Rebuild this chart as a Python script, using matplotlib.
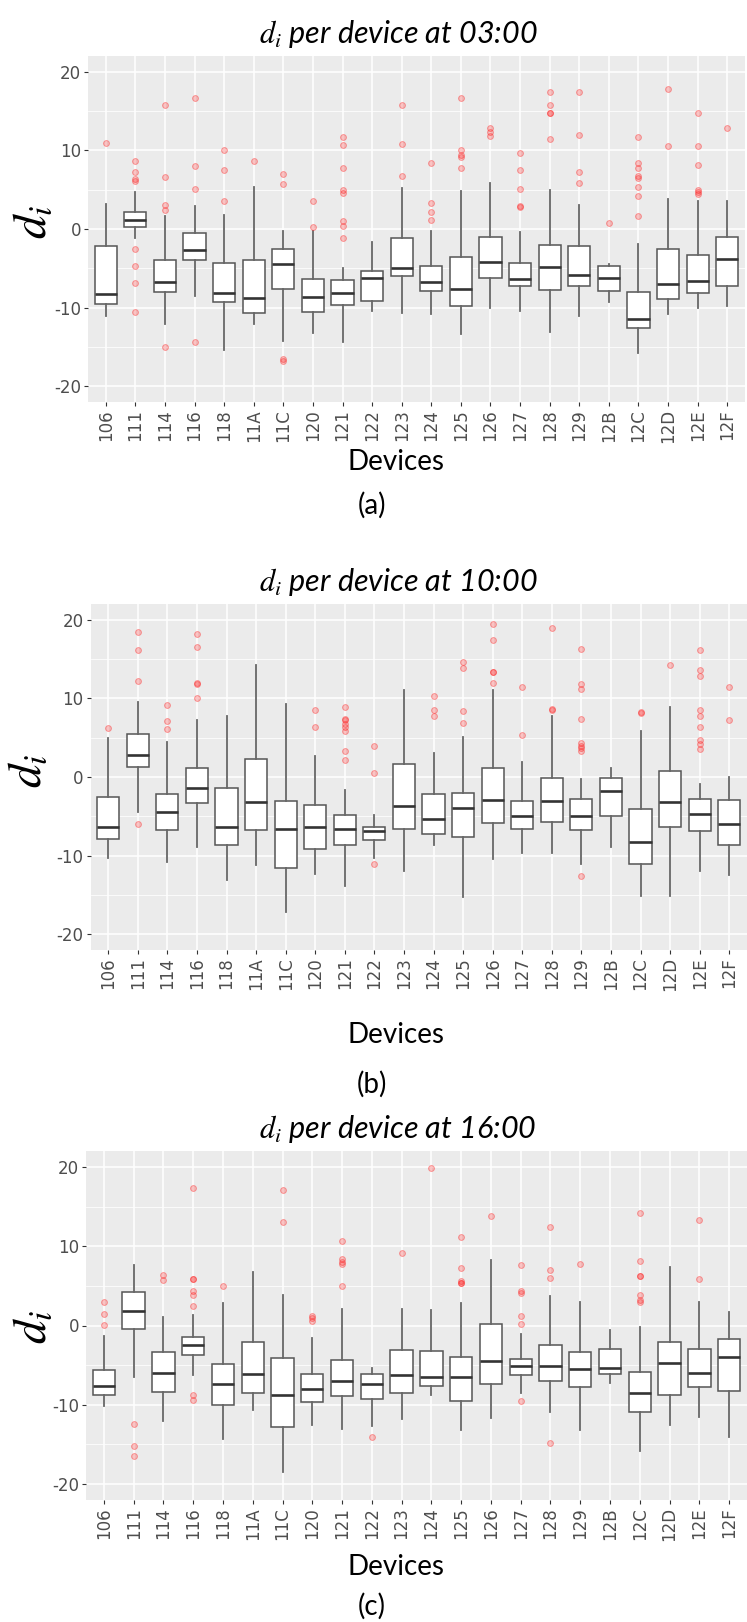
import matplotlib
matplotlib.use('Agg')
import matplotlib.pyplot as plt
from matplotlib.ticker import FixedLocator

plt.rcParams['mathtext.fontset'] = 'stix'

devices = ['106', '111', '114', '116', '118', '11A', '11C', '120', '121', '122', '123',
           '124', '125', '126', '127', '128', '129', '12B', '12C', '12D', '12E', '12F']

# ---------------- panel (a) 03:00 ----------------
a_whishi = [3.2, 4.7, 1.7, 2.9, 1.8, 5.3, -0.2, -0.3, -5.0, -1.7, 5.25,
            -0.3, 4.8, 5.8, -0.4, 5.0, 3.0, -4.5, -1.9, 3.8, 3.6, 3.6]
a_q3 = [-2.1, 2.1, -4.0, -0.5, -4.3, -3.9, -2.6, -6.3, -6.5, -5.4, -1.2,
        -4.7, -3.5, -1.0, -4.3, -2.0, -2.2, -4.7, -8.0, -2.6, -3.3, -1.0]
a_med = [-8.3, 1.1, -6.7, -2.7, -8.2, -8.8, -4.5, -8.6, -8.1, -6.2, -5.0,
         -6.7, -7.6, -4.2, -6.3, -4.8, -5.8, -6.2, -11.5, -7.0, -6.6, -3.8]
a_q1 = [-9.5, 0.25, -8.0, -3.9, -9.3, -10.7, -7.6, -10.6, -9.7, -9.1, -6.0,
        -7.9, -9.8, -6.2, -7.2, -7.8, -7.3, -7.9, -12.6, -8.9, -8.1, -7.2]
a_whislo = [-11.1, -1.2, -12.1, -8.5, -15.4, -12.1, -14.2, -13.2, -14.4, -10.4, -10.7,
            -10.8, -13.4, -10.0, -10.4, -13.1, -11.1, -9.3, -15.8, -10.8, -10.0, -9.8]
a_fliers = [[11.0],
            [8.6, 7.2, 6.4, 6.1, -2.6, -4.7, -6.9, -10.6],
            [15.8, 6.6, 3.05, 2.4, -15.0],
            [16.6, 8.0, 5.1, -14.4],
            [10.0, 7.5, 3.6],
            [8.7],
            [7.0, 5.7, -16.5, -16.8],
            [3.6, 0.2],
            [11.7, 10.7, 7.8, 5.0, 4.6, 1.0, 0.4, -1.1],
            [],
            [15.8, 10.8, 6.7],
            [8.4, 3.3, 2.2, 1.2],
            [16.7, 10.1, 9.4, 9.2, 7.7],
            [12.8, 12.3, 11.8],
            [9.7, 7.5, 5.1, 2.9, 2.8],
            [17.4, 15.8, 14.8, 14.7, 11.5],
            [17.4, 11.9, 7.2, 5.8],
            [0.8],
            [11.7, 8.4, 7.75, 6.8, 6.5, 5.4, 4.2, 1.6],
            [17.8, 10.5],
            [14.7, 10.6, 8.1, 4.9, 4.7, 4.5],
            [12.8]]

# ---------------- panel (b) 10:00 ----------------
b_whishi = [4.9, 9.6, 4.5, 7.2, 7.8, 14.2, 9.3, 2.7, -1.65, -4.8, 11.1,
            3.05, 5.1, 11.1, 1.95, 7.8, -0.2, 1.1, 5.8, 8.9, -0.9, 0.0]
b_q3 = [-2.5, 5.5, -2.2, 1.1, -1.4, 2.3, -3.1, -3.5, -4.8, -6.4, 1.6,
        -2.2, -2.0, 1.2, -3.1, -0.1, -2.8, -0.1, -4.1, 0.7, -2.75, -2.9]
b_med = [-6.4, 2.8, -4.4, -1.4, -6.4, -3.2, -6.6, -6.4, -6.6, -6.9, -3.7,
         -5.3, -3.9, -2.9, -5.0, -3.1, -5.0, -1.8, -8.3, -3.2, -4.7, -6.0]
b_q1 = [-7.9, 1.3, -6.8, -3.3, -8.7, -6.8, -11.6, -9.2, -8.7, -8.05, -6.6,
        -7.3, -7.6, -5.8, -6.6, -5.7, -6.7, -4.9, -11.1, -6.4, -6.9, -8.6]
b_whislo = [-10.3, -4.4, -10.85, -8.9, -13.05, -11.2, -17.2, -12.3, -13.8, -10.3, -12.0,
            -8.7, -15.3, -10.4, -9.7, -9.7, -11.1, -8.9, -15.1, -15.1, -11.9, -12.5]
b_fliers = [[6.2],
            [18.5, 16.2, 12.2, -6.0],
            [9.1, 7.1, 6.1],
            [18.2, 16.5, 12.0, 11.8, 10.0],
            [],
            [],
            [],
            [8.5, 6.3],
            [8.9, 7.4, 7.2, 6.8, 6.4, 5.9, 3.3, 2.2],
            [4.0, 0.5, -11.1],
            [],
            [10.3, 8.5, 7.8],
            [14.6, 13.9, 8.4, 6.9],
            [19.5, 17.4, 13.4, 13.3, 11.9],
            [11.4, 5.3],
            [18.9, 8.6, 8.5],
            [16.3, 11.8, 11.2, 7.4, 4.3, 3.9, 3.7, 3.3, -12.6],
            [],
            [8.3, 8.2],
            [14.2],
            [16.1, 13.6, 12.8, 8.5, 7.75, 6.3, 4.7, 4.15, 3.5],
            [11.4, 7.2]]

# ---------------- panel (c) 16:00 ----------------
c_whishi = [-1.3, 7.6, 1.05, 1.35, 2.8, 6.7, 3.9, -1.6, 2.1, -5.4, 2.1,
            1.9, 2.8, 8.3, -1.1, 3.7, 2.9, -0.55, -0.2, 7.4, 2.9, 1.7]
c_q3 = [-5.6, 4.2, -3.3, -1.4, -4.8, -2.1, -4.1, -6.1, -4.3, -6.1, -3.1,
        -3.2, -4.0, 0.25, -4.2, -2.5, -3.4, -2.9, -5.85, -2.1, -3.0, -1.7]
c_med = [-7.6, 1.8, -6.0, -2.5, -7.4, -6.1, -8.7, -8.0, -7.0, -7.4, -6.2,
         -6.5, -6.5, -4.5, -5.1, -5.1, -5.5, -5.3, -8.45, -4.7, -6.0, -4.0]
c_q1 = [-8.8, -0.5, -8.4, -3.7, -10.0, -8.5, -12.8, -9.6, -8.9, -9.3, -8.5,
        -7.6, -9.5, -7.4, -6.3, -7.0, -7.7, -6.1, -10.9, -8.7, -7.8, -8.3]
c_whislo = [-10.2, -6.5, -12.0, -6.2, -14.3, -10.6, -18.5, -12.55, -13.0, -12.7, -11.8,
            -8.8, -13.2, -11.7, -8.5, -10.9, -13.2, -7.2, -15.8, -12.5, -11.5, -14.1]
c_fliers = [[2.9, 1.5, 0.05],
            [-12.4, -15.2, -16.5],
            [6.4, 5.7],
            [17.3, 5.9, 5.8, 4.4, 3.8, 2.5, -8.7, -9.4],
            [5.0],
            [],
            [17.05, 13.1],
            [1.2, 0.9, 0.6],
            [10.6, 8.4, 8.0, 7.8, 5.0],
            [-14.1],
            [9.2],
            [19.9],
            [11.1, 7.2, 5.6, 5.4, 5.3],
            [13.8],
            [7.6, 4.4, 4.1, 1.2, 0.2, -9.5],
            [12.4, 7.0, 6.0, -14.8],
            [7.8],
            [],
            [14.2, 8.1, 6.3, 6.2, 3.9, 3.2, 3.0],
            [],
            [13.3, 5.8],
            []]

titles = [r'$d_i$ per device at 03:00', r'$d_i$ per device at 10:00', r'$d_i$ per device at 16:00']
panel_tags = ['(a)', '(b)', '(c)']
yticks = [-20, -10, 0, 10, 20]
yticklabels = ['-20', '-10', '0', '10', '20']

W, H = 747, 1622
fig = plt.figure(figsize=(W / 100, H / 100), dpi=100)

# layout in pixels: (left, right, top, bottom), title y, ylabel x,y, xlabel y, tag y
layouts = [
    dict(box=(88, 745, 56, 402), title_y=34, ylab=(33, 222), xlab_y=462, tag_y=505),
    dict(box=(90.5, 747, 604, 950), title_y=582, ylab=(28, 771), xlab_y=1035, tag_y=1084),
    dict(box=(86, 747, 1151, 1500), title_y=1129, ylab=(33, 1327), xlab_y=1567, tag_y=1606),
]

panels = [
    (a_whishi, a_q3, a_med, a_q1, a_whislo, a_fliers),
    (b_whishi, b_q3, b_med, b_q1, b_whislo, b_fliers),
    (c_whishi, c_q3, c_med, c_q1, c_whislo, c_fliers),
]

grey_txt = '#4d4d4d'

for k, (data, lay) in enumerate(zip(panels, layouts)):
    whishi, q3, med, q1, whislo, fliers = data
    l, r, t, b = lay['box']
    ax = fig.add_axes([l / W, 1 - b / H, (r - l) / W, (b - t) / H])
    ax.set_facecolor('#EBEBEB')
    for s in ax.spines.values():
        s.set_visible(False)

    stats = []
    for i, d in enumerate(devices):
        stats.append(dict(med=med[i], q1=q1[i], q3=q3[i], whislo=whislo[i],
                          whishi=whishi[i], fliers=fliers[i], label=d))
    pos = list(range(1, len(devices) + 1))
    ax.bxp(stats, positions=pos, widths=0.75, patch_artist=True, showcaps=False,
           boxprops=dict(facecolor='white', edgecolor='#555555', linewidth=1.1),
           medianprops=dict(color='#333333', linewidth=1.9),
           whiskerprops=dict(color='#666666', linewidth=1.3),
           flierprops=dict(marker='o', markersize=4.2, markerfacecolor=(1, 0, 0, 0.22),
                           markeredgecolor=(1, 0.2, 0.2, 0.45), markeredgewidth=0.7,
                           linestyle='none'))

    ax.set_xlim(0.4, len(devices) + 0.6)
    ax.set_ylim(-22, 22)
    ax.set_xticks(pos)
    ax.set_xticklabels(devices, rotation=90, fontsize=12, color=grey_txt,
                       family='DejaVu Sans')
    ax.set_yticks(yticks)
    ax.set_yticklabels(yticklabels, fontsize=12, color=grey_txt, family='DejaVu Sans')
    ax.yaxis.set_minor_locator(FixedLocator([-15, -5, 5, 15]))
    ax.set_axisbelow(True)
    ax.grid(which='major', color='white', linewidth=1.1)
    ax.grid(which='minor', axis='y', color='white', linewidth=0.55)
    ax.tick_params(which='major', length=3, width=0.8, color='#333333', pad=2)
    ax.tick_params(which='minor', length=0)

    fig.text(398 / W, 1 - lay['title_y'] / H, titles[k], ha='center', va='center',
             fontsize=22, family='Lato', style='italic', color='black')
    fig.text(lay['ylab'][0] / W, 1 - lay['ylab'][1] / H, r'$d_i$', rotation=90,
             ha='center', va='center', fontsize=34, color='black')
    fig.text(396 / W, 1 - lay['xlab_y'] / H, 'Devices', ha='center', va='center',
             fontsize=20, family='Lato', color='black')
    fig.text(372 / W, 1 - lay['tag_y'] / H, panel_tags[k], ha='center', va='center',
             fontsize=20, family='Lato', color='black')

fig.savefig('out.png', dpi=100)
